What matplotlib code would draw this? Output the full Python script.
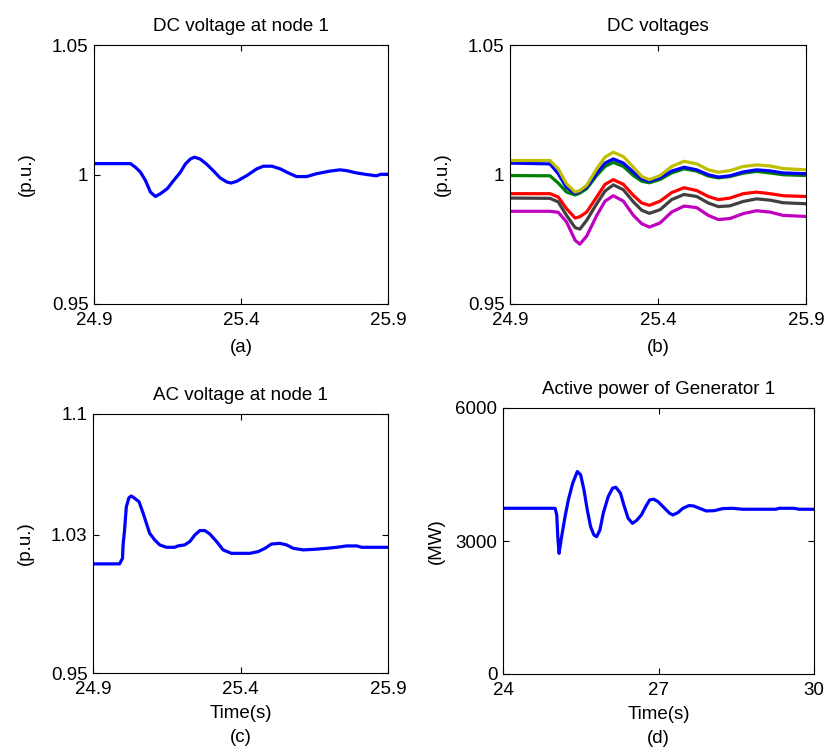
import matplotlib
matplotlib.use("Agg")
import matplotlib.pyplot as plt

plt.rcParams['font.family'] = ['Liberation Sans', 'DejaVu Sans']
plt.rcParams['font.size'] = 13.5
plt.rcParams['axes.titlesize'] = 13.5

# (a) DC voltage at node 1
t_a = [24.9, 25.024, 25.041, 25.058, 25.075, 25.092, 25.109, 25.126, 25.149, 25.171,
       25.194, 25.211, 25.228, 25.242, 25.262, 25.284, 25.307, 25.329, 25.352, 25.366,
       25.386, 25.42, 25.454, 25.476, 25.505, 25.533, 25.561, 25.589, 25.623, 25.657,
       25.702, 25.736, 25.759, 25.793, 25.827, 25.86, 25.877, 25.9]
v_a = [1.0042, 1.0042, 1.0028, 1.0009, 0.9977, 0.9932, 0.9915, 0.9926, 0.9945, 0.9977,
       1.0009, 1.0041, 1.0060, 1.0067, 1.0059, 1.0039, 1.0013, 0.9987, 0.9971, 0.9967,
       0.9974, 0.9996, 1.0022, 1.0032, 1.0032, 1.0022, 1.0006, 0.9992, 0.9992, 1.0003,
       1.0013, 1.0018, 1.0015, 1.0006, 1.0000, 0.9995, 1.0001, 1.0001]

# (b) DC voltages at all nodes
t_b = [24.9, 25.035, 25.063, 25.091, 25.12, 25.136, 25.159, 25.193, 25.221, 25.249,
       25.283, 25.317, 25.345, 25.371, 25.407, 25.446, 25.488, 25.531, 25.57, 25.604,
       25.643, 25.688, 25.733, 25.778, 25.823, 25.9]
v_yellow = [1.0054, 1.0054, 1.0022, 0.9964, 0.9932, 0.9938, 0.9958, 1.0022, 1.0067, 1.0086,
            1.0069, 1.0028, 0.9992, 0.9980, 0.9996, 1.0031, 1.0051, 1.0041, 1.0018, 1.0009,
            1.0015, 1.0031, 1.0037, 1.0033, 1.0023, 1.0018]
v_blue = [1.0044, 1.0041, 1.0003, 0.9949, 0.9927, 0.9935, 0.9951, 1.0005, 1.0044, 1.0060,
          1.0044, 1.0009, 0.9983, 0.9974, 0.9987, 1.0013, 1.0028, 1.0018, 0.9999, 0.9990,
          0.9995, 1.0010, 1.0018, 1.0014, 1.0006, 1.0003]
v_green = [0.9996, 0.9995, 0.9967, 0.9932, 0.9921, 0.9928, 0.9945, 0.9996, 1.0031, 1.0047,
           1.0031, 0.9996, 0.9974, 0.9968, 0.9981, 1.0006, 1.0022, 1.0013, 0.9994, 0.9987,
           0.9992, 1.0005, 1.0012, 1.0006, 0.9999, 0.9996]
v_red = [0.9926, 0.9926, 0.9913, 0.9868, 0.9832, 0.9837, 0.9855, 0.9913, 0.9962, 0.9980,
         0.9962, 0.9919, 0.9890, 0.9881, 0.9897, 0.9930, 0.9949, 0.9938, 0.9915, 0.9903,
         0.9909, 0.9926, 0.9932, 0.9926, 0.9918, 0.9915]
v_gray = [0.9909, 0.9908, 0.9894, 0.9842, 0.9795, 0.9789, 0.9823, 0.9887, 0.9936, 0.9960,
          0.9941, 0.9894, 0.9862, 0.9850, 0.9864, 0.9903, 0.9923, 0.9915, 0.9890, 0.9876,
          0.9879, 0.9896, 0.9906, 0.9901, 0.9891, 0.9887]
v_magenta = [0.9858, 0.9858, 0.9854, 0.9817, 0.9746, 0.9731, 0.9762, 0.9842, 0.9897, 0.9918,
             0.9897, 0.9842, 0.9810, 0.9797, 0.9813, 0.9855, 0.9878, 0.9872, 0.9842, 0.9826,
             0.9830, 0.9849, 0.9860, 0.9855, 0.9842, 0.9838]

# (c) AC voltage at node 1
t_c = [24.9, 24.99, 25.0, 25.002, 25.007, 25.013, 25.022, 25.03, 25.041, 25.056,
       25.07, 25.081, 25.092, 25.109, 25.126, 25.149, 25.177, 25.188, 25.211, 25.228,
       25.245, 25.262, 25.279, 25.296, 25.319, 25.341, 25.369, 25.398, 25.432, 25.46,
       25.483, 25.505, 25.533, 25.556, 25.579, 25.613, 25.647, 25.692, 25.726, 25.76,
       25.794, 25.811, 25.85, 25.9]
v_c = [1.0132, 1.0132, 1.0164, 1.0242, 1.0328, 1.0463, 1.0516, 1.0525, 1.0512, 1.0492,
       1.0425, 1.0367, 1.0309, 1.0271, 1.0242, 1.0228, 1.0228, 1.0236, 1.0242, 1.0261,
       1.0299, 1.0325, 1.0325, 1.0305, 1.0261, 1.0213, 1.0193, 1.0193, 1.0193, 1.0203,
       1.0222, 1.0247, 1.0251, 1.0242, 1.0222, 1.0213, 1.0216, 1.0222, 1.0228, 1.0236,
       1.0236, 1.0228, 1.0228, 1.0228]

# (d) Active power of Generator 1
t_d = [24.0, 25.005, 25.037, 25.057, 25.082, 25.101, 25.12, 25.153, 25.197, 25.261,
       25.345, 25.434, 25.498, 25.562, 25.626, 25.69, 25.754, 25.806, 25.87, 25.934,
       26.03, 26.113, 26.177, 26.267, 26.331, 26.414, 26.497, 26.574, 26.67, 26.753,
       26.83, 26.907, 26.99, 27.086, 27.214, 27.278, 27.374, 27.47, 27.586, 27.675,
       27.791, 27.919, 28.079, 28.239, 28.431, 28.623, 28.879, 29.263, 29.327, 29.615,
       29.711, 30.0]
p_d = [3738, 3738, 3588, 3098, 2721, 2872, 3022, 3248, 3550, 3927,
       4304, 4567, 4492, 4153, 3701, 3324, 3135, 3098, 3248, 3625,
       4002, 4190, 4213, 4077, 3814, 3512, 3399, 3459, 3588, 3776,
       3927, 3942, 3889, 3776, 3625, 3588, 3640, 3738, 3798, 3791,
       3738, 3678, 3685, 3731, 3738, 3716, 3716, 3716, 3738, 3738,
       3716, 3716]

W, H = 826, 751
fig = plt.figure(figsize=(W / 100, H / 100), dpi=100)


def make_ax(l, r, top, bot):
    ax = fig.add_axes([l / W, (H - bot) / H, (r - l) / W, (bot - top) / H])
    ax.tick_params(direction='in', top=True, right=True, length=4, pad=4)
    ax.tick_params(axis='x', pad=6)
    return ax


ax_a = make_ax(94, 388, 45, 304)
ax_b = make_ax(510, 806, 45, 304)
ax_c = make_ax(93, 388, 414, 673)
ax_d = make_ax(503, 814, 408, 674)

lw = 2.3
ax_a.plot(t_a, v_a, color='#0000ff', lw=lw)
ax_b.plot(t_b, v_red, color='#ff0000', lw=lw)
ax_b.plot(t_b, v_gray, color='#404040', lw=lw)
ax_b.plot(t_b, v_magenta, color='#bf00bf', lw=lw)
ax_b.plot(t_b, v_green, color='#008000', lw=lw)
ax_b.plot(t_b, v_blue, color='#0000ff', lw=lw)
ax_b.plot(t_b, v_yellow, color='#bfbf00', lw=lw)
ax_c.plot(t_c, v_c, color='#0000ff', lw=lw)
ax_d.plot(t_d, p_d, color='#0000ff', lw=lw)

for ax in (ax_a, ax_b):
    ax.set_xlim(24.9, 25.9)
    ax.set_ylim(0.95, 1.05)
    ax.set_xticks([24.9, 25.4, 25.9])
    ax.set_xticklabels(['24.9', '25.4', '25.9'])
    ax.set_yticks([0.95, 1.0, 1.05])
    ax.set_yticklabels(['0.95', '1', '1.05'])
    ax.set_ylabel('(p.u.)')

ax_c.set_xlim(24.9, 25.9)
ax_c.set_ylim(0.95, 1.1)
ax_c.set_xticks([24.9, 25.4, 25.9])
ax_c.set_xticklabels(['24.9', '25.4', '25.9'])
ax_c.set_yticks([0.95, 1.03, 1.1])
ax_c.set_yticklabels(['0.95', '1.03', '1.1'])
ax_c.set_ylabel('(p.u.)')

ax_d.set_xlim(24, 30)
ax_d.set_ylim(0, 6000)
ax_d.set_xticks([24, 27, 30])
ax_d.set_yticks([0, 3000, 6000])
ax_d.set_ylabel('(MW)')

ax_a.set_title('DC voltage at node 1', pad=10)
ax_b.set_title('DC voltages', pad=10)
ax_c.set_title('AC voltage at node 1', pad=10)
ax_d.set_title('Active power of Generator 1', pad=10)

ax_a.set_xlabel('(a)', labelpad=7)
ax_b.set_xlabel('(b)', labelpad=7)
ax_c.set_xlabel('Time(s)\n(c)', labelpad=5, linespacing=1.5)
ax_d.set_xlabel('Time(s)\n(d)', labelpad=5, linespacing=1.5)

ax_a.yaxis.set_label_coords(-0.2, 0.5)
ax_b.yaxis.set_label_coords(-0.2, 0.5)
ax_c.yaxis.set_label_coords(-0.2, 0.5)
ax_d.yaxis.set_label_coords(-0.187, 0.5)

plt.savefig('out.png', dpi=100)
